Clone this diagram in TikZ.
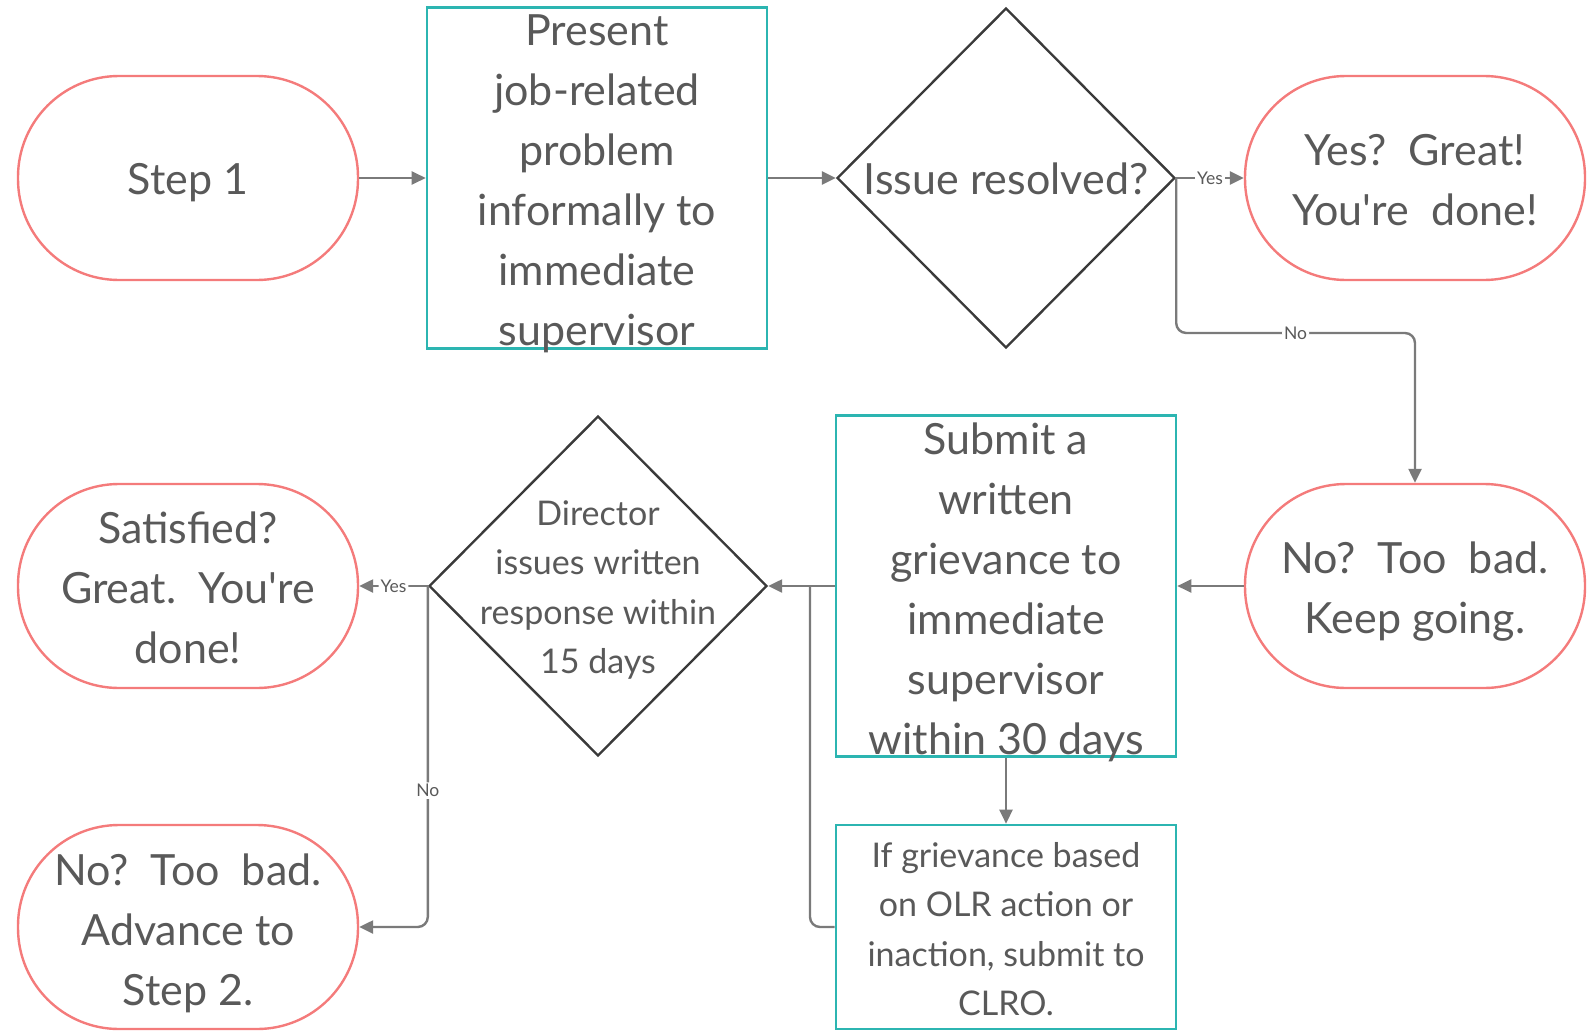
\documentclass[tikz,border=0pt]{standalone}
\usepackage{fontspec}
\setmainfont{Lato}[Ligatures=TeXOff]
\usetikzlibrary{shapes.geometric,arrows.meta}
\definecolor{termc}{HTML}{F47B7B}
\definecolor{procc}{HTML}{2CB5B1}
\definecolor{decc}{HTML}{3A3A3A}
\definecolor{linec}{HTML}{7A7A7A}
\definecolor{txtc}{HTML}{595959}
\tikzset{
  term/.style={draw=termc, line width=2.4pt, rounded corners=101pt, minimum width=340pt, minimum height=204pt, inner sep=0pt},
  proc/.style={draw=procc, line width=2.6pt, minimum width=340pt, minimum height=341pt, inner sep=0pt},
  dec/.style={draw=decc, diamond, aspect=1, line width=2.4pt, minimum width=338pt, minimum height=340pt, inner sep=0pt},
  big/.style={font=\fontsize{43}{60}\selectfont, text=txtc, align=center, yshift=-6pt},
  nodesc/.style={yshift=4pt},
  mid/.style={font=\fontsize{34}{49.5}\selectfont, text=txtc, align=center, yshift=-2pt},
  conn/.style={draw=linec, line width=2.4pt, -{Triangle[length=14pt,width=13pt]}, rounded corners=10pt},
  plain/.style={draw=linec, line width=2.4pt, rounded corners=10pt},
  lab/.style={font=\fontsize{17.5}{17.5}\selectfont, fill=white, text=txtc, inner sep=2pt}
}
\begin{document}
\begin{tikzpicture}[x=1pt,y=-1pt]
\useasboundingbox (0,0) rectangle (1589,1030);
% nodes
\node[term, label={[big, yshift=1pt]center:Step 1}] (s1) at (188,178) {};
\node[proc, label={[big]center:Present\\job-related\\problem\\informally to\\immediate\\supervisor}] (b1) at (597,178) {};
\node[dec, label={[big, nodesc, yshift=1pt]center:Issue resolved?}] (d1) at (1006,178) {};
\node[term, label={[big, nodesc]center:Yes?~~Great!\\You're~~done!}] (yes) at (1415,178) {};
\node[term, label={[big]center:No?~~Too~~bad.\\Keep going.}] (kg) at (1415,586) {};
\node[proc, label={[big]center:Submit a\\written\\grievance to\\immediate\\supervisor\\within 30 days}] (b2) at (1006,586) {};
\node[proc, minimum height=204pt, label={[mid]center:If grievance based\\on OLR action or\\inaction, submit to\\CLRO.}] (b3) at (1006,927) {};
\node[dec, label={[mid, yshift=-2pt]center:Director\\issues written\\response within\\15 days}] (d2) at (598,586) {};
\node[term, label={[big, nodesc]center:Satisfied?\\Great.~~You're\\done!}] (sat) at (188,586) {};
\node[term, label={[big]center:No?~~Too~~bad.\\Advance to\\Step 2.}] (adv) at (188,927) {};
\coordinate (nolev) at (0,333);
\coordinate (jn) at (810,586);
% connectors
\draw[conn] (s1.east) -- (b1.west);
\draw[conn] (b1.east) -- (d1.west);
\draw[conn] (d1.east) -- node[lab]{Yes} (yes.west);
\draw[conn] (d1.east) -- (d1.east |- nolev) -- node[lab]{No} (kg.north |- nolev) -- (kg.north);
\draw[conn] (kg.west) -- (b2.east);
\draw[conn] (b2.west) -- (d2.east);
\draw[plain] (b3.west) -| (jn);
\draw[conn] (b2.south) -- (b3.north);
\draw[conn] (d2.west) -- node[lab]{Yes} (sat.east);
\draw[conn] (d2.west) |- node[lab, pos=0.3]{No} (adv.east);
\end{tikzpicture}
\end{document}
